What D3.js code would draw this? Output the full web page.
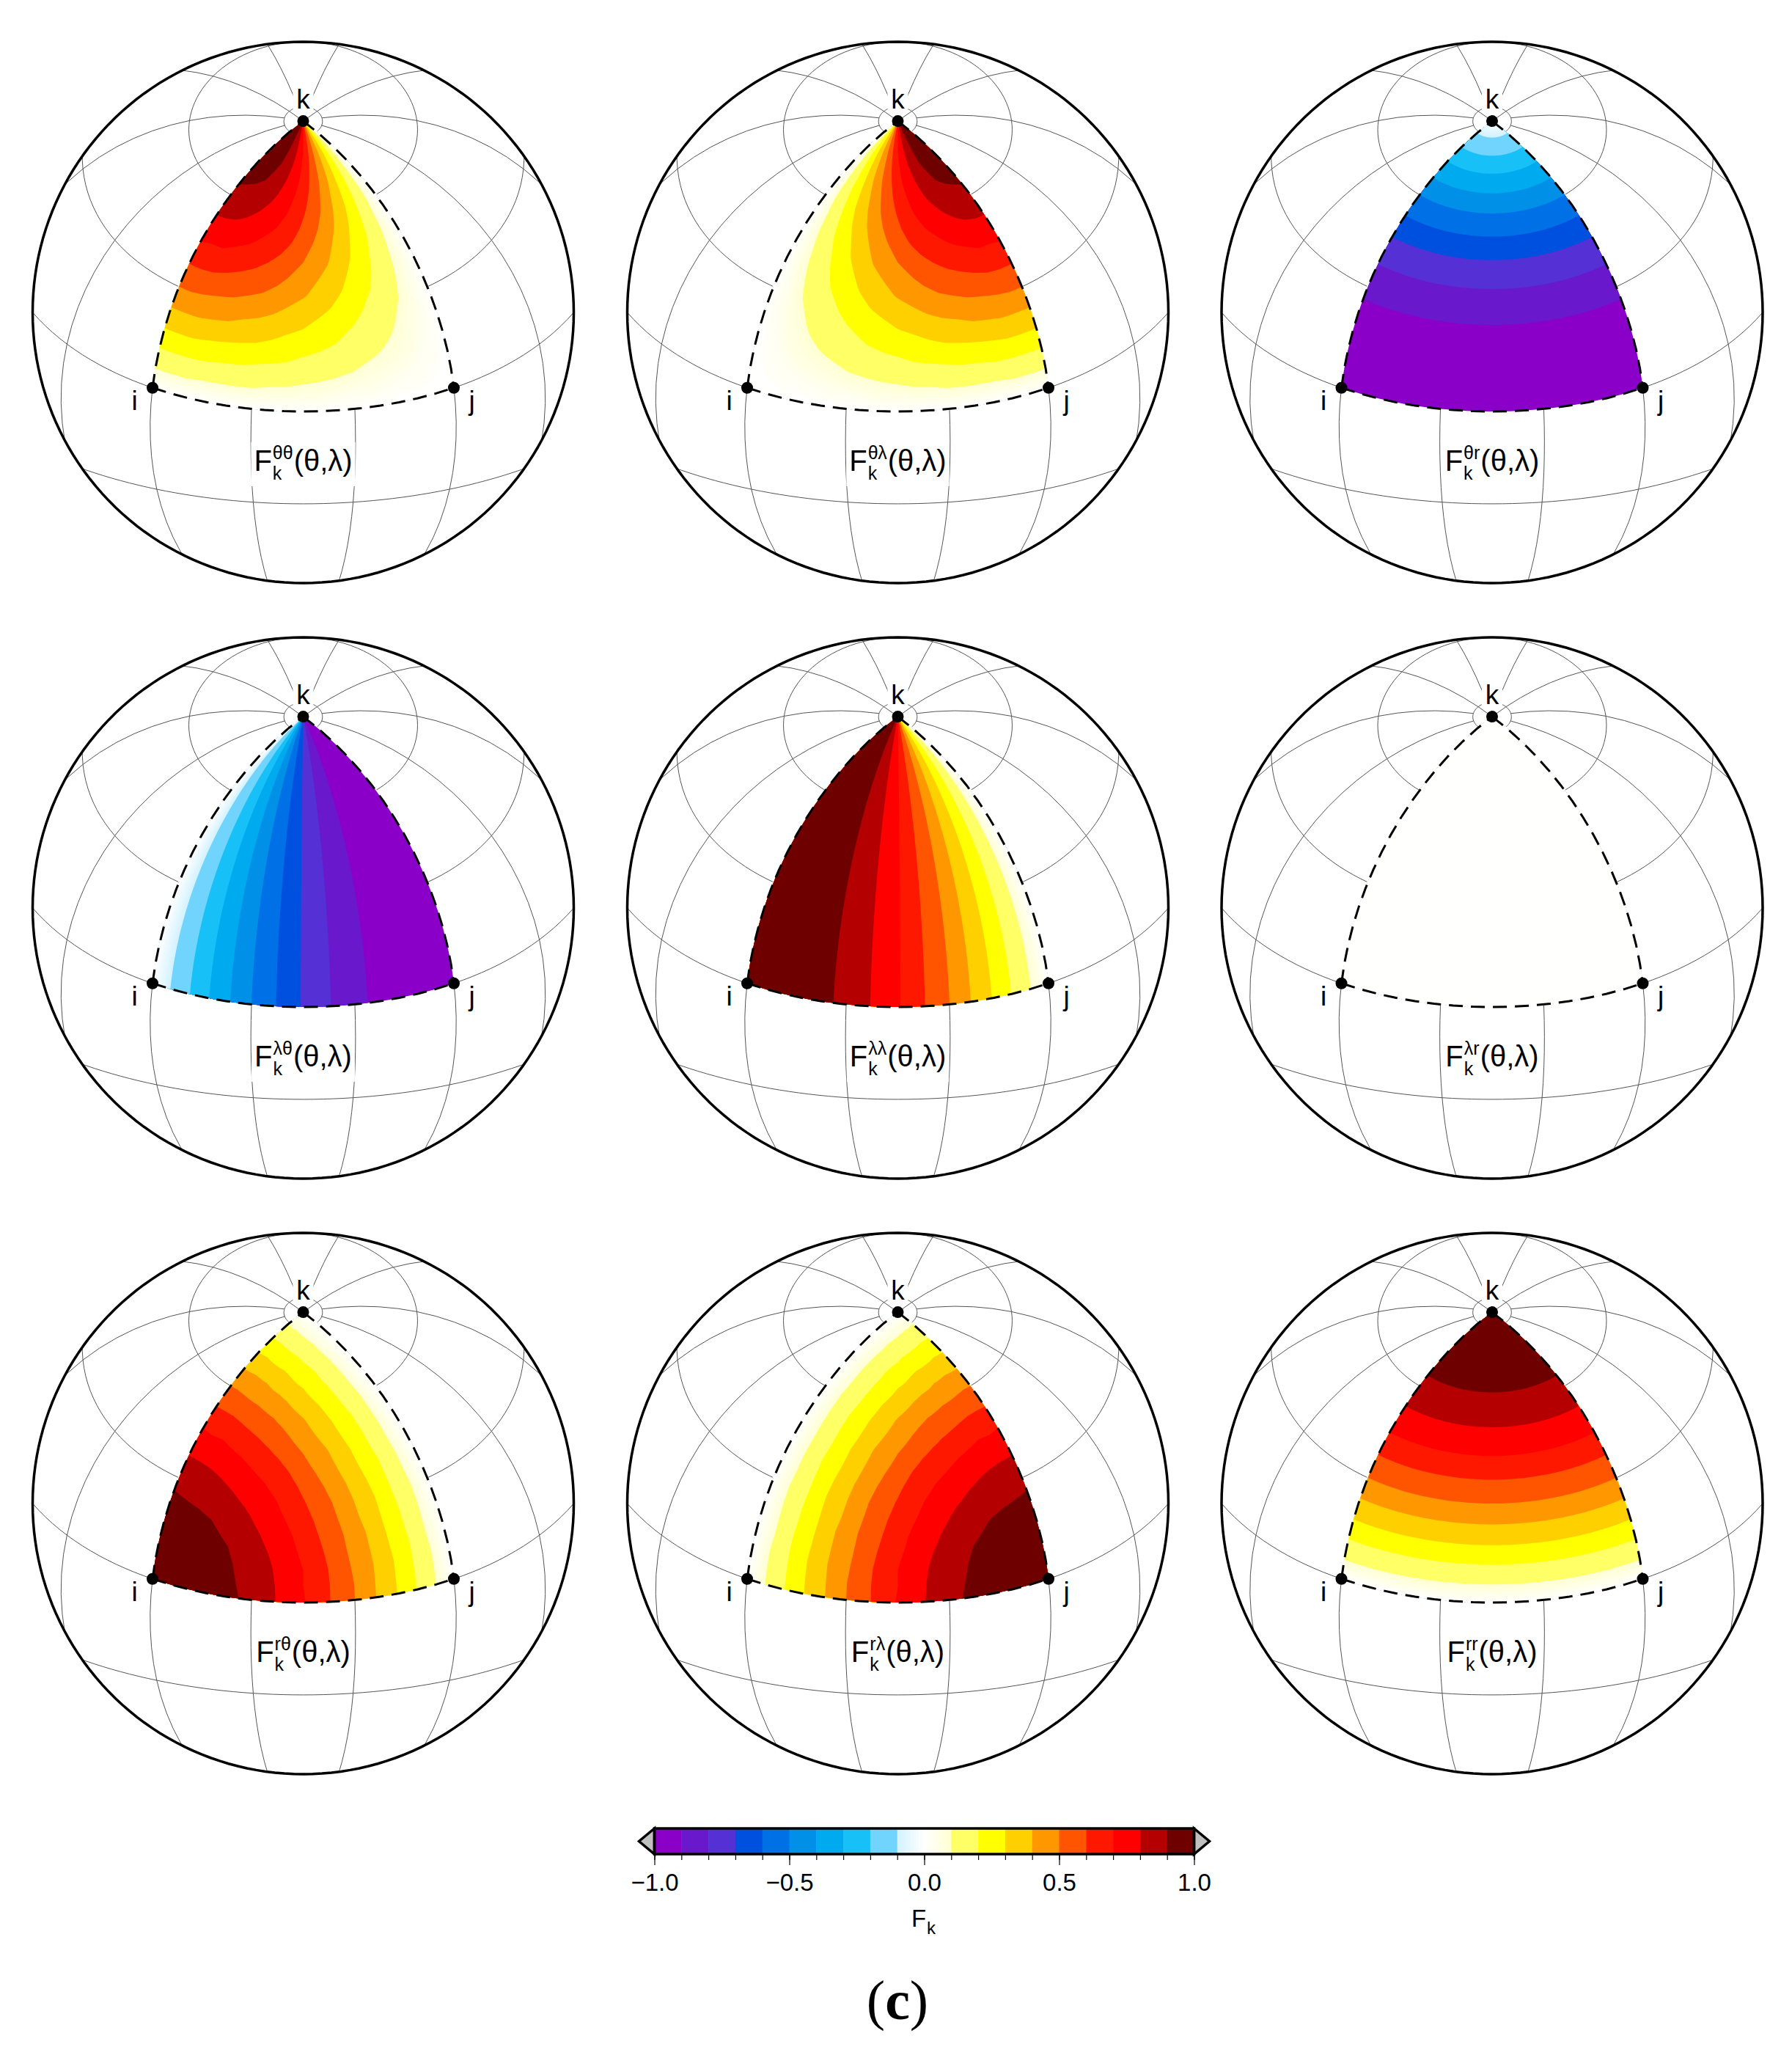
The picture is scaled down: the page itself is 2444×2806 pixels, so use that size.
<!doctype html>
<html lang="en">
<head>
<meta charset="UTF-8">
<title>Fk</title>
<script src="https://d3js.org/d3.v7.min.js"></script>
<style>
    body { margin: 0; background: #fff; }
    text { font-family: "Liberation Sans", Arial, sans-serif; fill: #000; }
</style>
</head>
<body>
<div id="chart"></div>
<script>
    const width = 2444, height = 2806

    // sphere panels
    const centersX = [413.5, 1224.5, 2035]
    const centersY = [426, 1238, 2050]
    const radius = 369

    // graticule, degrees
    const gridLons = [-165, -135, -105, -75, -45, -15, 15, 45, 75, 105, 135, 165]
    const poleLons = [-135, -45, 45, 135]
    const gridLats = [-30, 0, 30, 60]
    const capLat = 85

    // triangle i j k
    const vertexI = [-45, 0], vertexJ = [45, 0], vertexK = [0, 90]

    // value grid of the triangle: rows go lat 0..90, columns lon -45..45, 5 degree steps
    const sampleLons = d3.range(-45, 46, 5)
    const sampleLats = d3.range(0, 91, 5)

    const thetaTheta = [
        [0, 0, 0, 0, 0, 0, 0, 0, 0, 0, 0, 0, 0, 0, 0, 0, 0, 0, 0],
        [.09, .09, .09, .08, .08, .08, .08, .07, .07, .06, .06, .05, .04, .04, .03, .02, .02, .01, 0],
        [.17, .17, .17, .17, .16, .16, .15, .14, .13, .12, .11, .10, .09, .07, .06, .05, .03, .02, 0],
        [.26, .26, .26, .25, .24, .23, .22, .21, .20, .18, .17, .15, .13, .11, .09, .07, .05, .02, 0],
        [.34, .34, .34, .33, .32, .31, .30, .28, .26, .24, .22, .20, .17, .14, .12, .09, .06, .03, 0],
        [.42, .42, .42, .41, .40, .38, .37, .35, .32, .30, .27, .24, .21, .18, .14, .11, .07, .04, 0],
        [.50, .50, .49, .48, .47, .45, .43, .41, .38, .35, .32, .29, .25, .21, .17, .13, .09, .04, 0],
        [.57, .57, .57, .55, .54, .52, .50, .47, .44, .41, .37, .33, .29, .24, .20, .15, .10, .05, 0],
        [.64, .64, .63, .62, .60, .58, .56, .53, .49, .45, .41, .37, .32, .27, .22, .17, .11, .06, 0],
        [.71, .70, .70, .68, .66, .64, .61, .58, .54, .50, .45, .41, .35, .30, .24, .18, .12, .06, 0],
        [.77, .76, .75, .74, .72, .69, .66, .63, .59, .54, .49, .44, .38, .32, .26, .20, .13, .07, 0],
        [.82, .82, .81, .79, .77, .74, .71, .67, .63, .58, .53, .47, .41, .35, .28, .21, .14, .07, 0],
        [.87, .86, .85, .84, .81, .78, .75, .71, .66, .61, .56, .50, .43, .37, .30, .22, .15, .08, 0],
        [.91, .90, .89, .88, .85, .82, .78, .74, .69, .64, .58, .52, .45, .38, .31, .23, .16, .08, 0],
        [.94, .94, .93, .91, .88, .85, .81, .77, .72, .66, .60, .54, .47, .40, .32, .24, .16, .08, 0],
        [.97, .96, .95, .93, .91, .88, .84, .79, .74, .68, .62, .55, .48, .41, .33, .25, .17, .08, 0],
        [.98, .98, .97, .95, .93, .89, .85, .81, .75, .70, .63, .57, .49, .42, .34, .26, .17, .09, 0],
        [1.0, .99, .98, .96, .94, .90, .86, .82, .76, .70, .64, .57, .50, .42, .34, .26, .17, .09, 0],
        [1.0, 1.0, .98, .97, .94, .91, .87, .82, .77, .71, .64, .57, .50, .42, .34, .26, .17, .09, 0]
    ]
    // same bands turned upside down in lat
    const rTheta = thetaTheta.slice().reverse()

    // these panels only change along one direction
    const thetaRByLat = [-1, -1, -.98, -.97, -.94, -.91, -.87, -.82, -.77, -.71, -.64, -.57, -.50, -.42, -.34, -.26, -.17, -.09, 0]
    const rrByLat = [0, .09, .17, .26, .34, .42, .50, .57, .64, .71, .77, .82, .87, .91, .94, .97, .98, 1, 1]
    const lambdaThetaByLon = [0, -.09, -.17, -.26, -.34, -.42, -.50, -.57, -.64, -.71, -.77, -.82, -.87, -.91, -.94, -.97, -.98, -1, -1]
    const lambdaLambdaByLon = [1, 1, .98, .97, .94, .91, .87, .82, .77, .71, .64, .57, .50, .42, .34, .26, .17, .09, 0]
    const lambdaRByLat = sampleLats.map(() => 0)

    const mirror = m => m.map(row => row.slice().reverse())
    const byLat = list => list.map(v => sampleLons.map(() => v))
    const byLon = list => sampleLats.map(() => list)

    const panelSupers = ['θθ', 'θλ', 'θr', 'λθ', 'λλ', 'λr', 'rθ', 'rλ', 'rr']
    const panelValues = [
        thetaTheta, mirror(thetaTheta), byLat(thetaRByLat),
        byLon(lambdaThetaByLon), byLon(lambdaLambdaByLon), byLat(lambdaRByLat),
        rTheta, mirror(rTheta), byLat(rrByLat)
    ]

    // colour bands, one for every 0.1 step
    const bandStarts = [-1, -.9, -.8, -.7, -.6, -.5, -.4, -.3, -.2, .1, .2, .3, .4, .5, .6, .7, .8, .9]
    const bandColors = ['#8a00c8', '#6a18cc', '#5530d5', '#0050e0', '#0070e6', '#0090e8', '#00aaee',
        '#18c0f8', '#70d4fc', '#ffff66', '#ffff00', '#ffd000', '#ff9800', '#ff5500', '#ff1800', '#ff0000', '#b40000', '#6e0000']
    // -0.1 .. 0.1 fades through white
    const fadeStops = [-.1, 0, .1]
    const fadeColors = ['#d2f2ff', '#ffffff', '#ffffd2']
    const fadeStarts = d3.range(-10, 10).map(d => d / 100)

    const fadeColor = d3.scaleLinear().domain(fadeStops).range(fadeColors)
    const bands = bandStarts.map((t, i) => ({start: t, end: +(t + .1).toFixed(1), color: bandColors[i]}))
        .concat(fadeStarts.map(t => ({start: t, end: t + .01, color: fadeColor(t + .005)})))
        .sort((a, b) => a.start - b.start)

    const svg = d3.select('#chart').append('svg')
        .attr('width', width)
        .attr('height', height)

    const contours = d3.contours().size([sampleLons.length, sampleLats.length])
    const lonOf = d3.scaleLinear().domain([.5, sampleLons.length - .5]).range([-45, 45]).clamp(true)
    const latOf = d3.scaleLinear().domain([.5, sampleLats.length - .5]).range([0, 90]).clamp(true)

    function ringPath(ring, projection) {
        const pts = []
        ring.forEach((p, i) => {
            const q = ring[(i + 1) % ring.length]
            for (let s = 0; s < 4; s++) {
                pts.push(projection([p[0] + (q[0] - p[0]) * s / 4, p[1] + (q[1] - p[1]) * s / 4]))
            }
        })
        return d3.line()(pts) + 'Z'
    }

    function drawPanel(col, row) {
        const index = row * 3 + col
        const cx = centersX[col], cy = centersY[row]
        const projection = d3.geoAzimuthalEqualArea()
            .rotate([0, -30])
            .clipAngle(90)
            .scale(radius / Math.SQRT2)
            .translate([cx, cy])
            .precision(.3)
        const path = d3.geoPath(projection)
        const g = svg.append('g')

        // grid
        const gridG = g.append('g').attr('fill', 'none').attr('stroke', '#555').attr('stroke-width', 1)
        gridLats.concat([capLat]).forEach(lat => {
            gridG.append('path').attr('d', path({
                type: 'LineString',
                coordinates: d3.range(-180, 181, 3).map(lon => [lon, lat])
            }))
        })
        gridLons.forEach(lon => {
            const top = poleLons.includes(lon) ? 90 : capLat
            gridG.append('path').attr('d', path({
                type: 'LineString',
                coordinates: d3.range(-90, top, 5).concat([top]).map(lat => [lon, lat])
            }))
        })

        // white triangle hides the grid
        const triRing = [[-45, 0], [45, 0], [45, 90], [-45, 90]]
        g.append('path').attr('d', ringPath(triRing.flatMap((p, i) => {
            const q = triRing[(i + 1) % 4]
            return d3.range(0, 1, .1).map(t => [p[0] + (q[0] - p[0]) * t, p[1] + (q[1] - p[1]) * t])
        }), projection)).attr('fill', '#fff').attr('stroke', '#fff').attr('stroke-width', 3)

        // bands
        const flat = panelValues[index].flat()
        bands.forEach(b => {
            const level = +b.start.toFixed(2)
            const shape = contours.contour(flat, level)
            if (!shape.coordinates.length) return
            let d = ''
            shape.coordinates.forEach(poly => poly.forEach(ring => {
                const r = ring.slice(0, -1).map(p => [lonOf(p[0]), latOf(p[1])])
                d += ringPath(r, projection)
            }))
            g.append('path').attr('d', d).attr('fill', b.color).attr('fill-rule', 'evenodd')
        })

        // triangle edges
        const edges = [[vertexI, vertexK], [vertexK, vertexJ], [vertexI, vertexJ]]
        edges.forEach(e => {
            g.append('path')
                .attr('d', path({type: 'LineString', coordinates: e}))
                .attr('fill', 'none')
                .attr('stroke', '#000')
                .attr('stroke-width', 3)
                .attr('stroke-dasharray', '19,11')
        })

        // outline
        g.append('path').attr('d', path({type: 'Sphere'}))
            .attr('fill', 'none').attr('stroke', '#000').attr('stroke-width', 3.5)

        // vertices
        ;[vertexI, vertexJ, vertexK].forEach(v => {
            const p = projection(v)
            g.append('circle').attr('cx', p[0]).attr('cy', p[1]).attr('r', 8).attr('fill', '#000')
        })

        // vertex labels
        g.append('rect').attr('x', cx - 14).attr('y', cy - 306).attr('width', 28).attr('height', 32).attr('fill', '#fff')
        g.append('text').attr('x', cx).attr('y', cy - 278).attr('text-anchor', 'middle').attr('font-size', 37).text('k')
        g.append('text').attr('x', cx - 230).attr('y', cy + 133).attr('text-anchor', 'middle').attr('font-size', 37).text('i')
        g.append('text').attr('x', cx + 230).attr('y', cy + 133).attr('text-anchor', 'middle').attr('font-size', 37).text('j')

        // panel label
        const labelG = g.append('g')
        const bg = labelG.append('rect').attr('fill', '#fff')
        const f = labelG.append('text').attr('font-size', 40).text('F')
        const fw = f.node().getComputedTextLength() + 1
        const sup = labelG.append('text').attr('x', fw).attr('y', -16).attr('font-size', 25).text(panelSupers[index])
        const sub = labelG.append('text').attr('x', fw).attr('y', 12).attr('font-size', 25).text('k')
        const sw = Math.max(sup.node().getComputedTextLength(), sub.node().getComputedTextLength())
        const rest = labelG.append('text').attr('x', fw + sw + 1).attr('font-size', 40).text('(θ,λ)')
        const total = fw + sw + 1 + rest.node().getComputedTextLength()
        bg.attr('x', -4).attr('y', -39).attr('width', total + 8).attr('height', 60)
        labelG.attr('transform', 'translate(' + (cx - total / 2) + ',' + (cy + 216) + ')')
    }

    centersY.forEach((y, row) => centersX.forEach((x, col) => drawPanel(col, row)))

    // colour bar
    const barTop = 2493, barBottom = 2528
    const barX = d3.scaleLinear().domain([-1, 1]).range([892.5, 1628.5])
    const legend = svg.append('g')
    legend.selectAll('rect.band').data(bands).enter().append('rect')
        .attr('x', d => barX(d.start))
        .attr('y', barTop)
        .attr('width', d => barX(d.end) - barX(d.start) + .5)
        .attr('height', barBottom - barTop)
        .attr('fill', d => d.color)
    const barLeft = barX(-1), barRight = barX(1), barMid = (barTop + barBottom) / 2
    legend.append('path')
        .attr('d', 'M' + barLeft + ',' + barTop + 'L' + (barLeft - 21) + ',' + barMid + 'L' + barLeft + ',' + barBottom + 'Z')
        .attr('fill', '#c0c0c0').attr('stroke', '#000').attr('stroke-width', 3.5)
    legend.append('path')
        .attr('d', 'M' + barRight + ',' + barTop + 'L' + (barRight + 21) + ',' + barMid + 'L' + barRight + ',' + barBottom + 'Z')
        .attr('fill', '#c0c0c0').attr('stroke', '#000').attr('stroke-width', 3.5)
    legend.append('rect')
        .attr('x', barLeft).attr('y', barTop)
        .attr('width', barRight - barLeft).attr('height', barBottom - barTop)
        .attr('fill', 'none').attr('stroke', '#000').attr('stroke-width', 3.5)

    const axisMajor = d3.axisBottom(barX).tickValues([-1, -.5, 0, .5, 1]).tickSize(15).tickPadding(12).tickFormat(d3.format('.1f'))
    const axisMinor = d3.axisBottom(barX).tickValues(d3.range(-10, 11).map(d => d / 10)).tickSize(8).tickFormat('')
    const minorG = legend.append('g').attr('transform', 'translate(0,' + barBottom + ')').call(axisMinor)
    const majorG = legend.append('g').attr('transform', 'translate(0,' + barBottom + ')').call(axisMajor)
    minorG.select('.domain').remove()
    majorG.select('.domain').remove()
    legend.selectAll('.tick line').attr('stroke', '#000').attr('stroke-width', 1.2)
    majorG.selectAll('.tick text').attr('font-size', 33).attr('font-family', '"Liberation Sans", Arial, sans-serif').attr('fill', '#000')

    legend.append('text').attr('x', 1243).attr('y', 2627).attr('font-size', 33).text('F')
    legend.append('text').attr('x', 1264).attr('y', 2637).attr('font-size', 24).text('k')

    // panel letter
    const caption = svg.append('text').attr('x', 1224).attr('y', 2753)
        .attr('text-anchor', 'middle').attr('font-size', 76)
        .style('font-family', '"Liberation Serif", serif')
    caption.append('tspan').text('(')
    caption.append('tspan').attr('font-weight', 'bold').text('c')
    caption.append('tspan').text(')')
</script>
</body>
</html>
